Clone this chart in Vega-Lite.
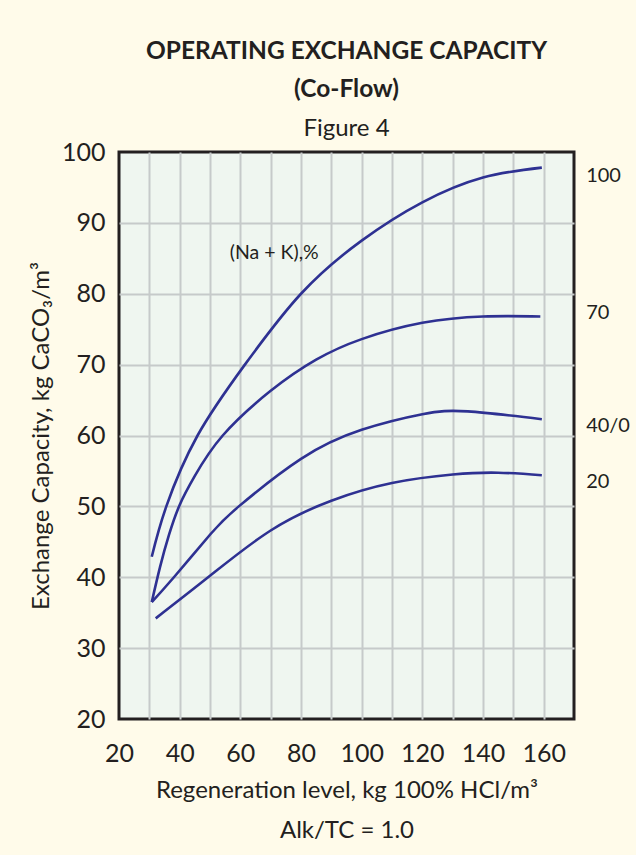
{
  "$schema": "https://vega.github.io/schema/vega-lite/v6.json",
  "autosize": "none",
  "width": 455,
  "height": 567,
  "padding": {"left": 119, "top": 152, "right": 62, "bottom": 136},
  "background": "#fffbea",
  "config": {
    "font": "Lato",
    "view": {"fill": "#eff6f0", "stroke": "#231f20", "strokeWidth": 3},
    "axis": {"gridColor": "#c6caca", "gridWidth": 2, "gridOpacity": 1, "domain": false, "ticks": false, "tickSize": 0, "labelColor": "#231f20", "titleColor": "#231f20", "labelFont": "Lato", "titleFont": "Lato", "titleFontWeight": "normal", "labelOverlap": false, "labelFlush": false}
  },
  "title": {
    "text": ["OPERATING EXCHANGE CAPACITY", "(Co-Flow)"],
    "fontSize": 24.5,
    "fontWeight": "bold",
    "lineHeight": 38,
    "color": "#231f20",
    "subtitle": "Figure 4",
    "subtitleFontSize": 24,
    "subtitleColor": "#231f20",
    "subtitlePadding": 15,
    "anchor": "middle",
    "frame": "group",
    "offset": -2
  },
  "resolve": {"axis": {"x": "independent", "y": "independent"}},
  "datasets": {
    "curves": [
      {"curve": "100", "x": 30.8, "y": 42.9},
      {"curve": "100", "x": 35.6, "y": 50},
      {"curve": "100", "x": 45.9, "y": 60},
      {"curve": "100", "x": 61.5, "y": 70},
      {"curve": "100", "x": 80, "y": 80},
      {"curve": "100", "x": 100, "y": 87.5},
      {"curve": "100", "x": 120, "y": 92.9},
      {"curve": "100", "x": 140, "y": 96.4},
      {"curve": "100", "x": 159.4, "y": 97.8},
      {"curve": "70", "x": 30.8, "y": 36.5},
      {"curve": "70", "x": 33.5, "y": 41.4},
      {"curve": "70", "x": 36.5, "y": 46},
      {"curve": "70", "x": 40, "y": 50.2},
      {"curve": "70", "x": 45, "y": 54.3},
      {"curve": "70", "x": 54.2, "y": 60},
      {"curve": "70", "x": 70, "y": 66.3},
      {"curve": "70", "x": 85, "y": 70.7},
      {"curve": "70", "x": 100, "y": 73.6},
      {"curve": "70", "x": 120, "y": 75.9},
      {"curve": "70", "x": 140, "y": 76.8},
      {"curve": "70", "x": 158.9, "y": 76.8},
      {"curve": "40/0", "x": 30.8, "y": 36.5},
      {"curve": "40/0", "x": 38.1, "y": 40},
      {"curve": "40/0", "x": 50.2, "y": 46.1},
      {"curve": "40/0", "x": 59.5, "y": 50},
      {"curve": "40/0", "x": 80, "y": 56.7},
      {"curve": "40/0", "x": 100, "y": 60.8},
      {"curve": "40/0", "x": 120, "y": 63},
      {"curve": "40/0", "x": 135, "y": 63.4},
      {"curve": "40/0", "x": 159.4, "y": 62.3},
      {"curve": "20", "x": 32.1, "y": 34.2},
      {"curve": "20", "x": 50, "y": 40.2},
      {"curve": "20", "x": 70, "y": 46.6},
      {"curve": "20", "x": 90, "y": 50.8},
      {"curve": "20", "x": 110, "y": 53.3},
      {"curve": "20", "x": 130, "y": 54.5},
      {"curve": "20", "x": 145, "y": 54.75},
      {"curve": "20", "x": 159.4, "y": 54.4}
    ],
    "endLabels": [
      {"label": "100", "x": 174, "y": 96.6},
      {"label": "70", "x": 174, "y": 77.3},
      {"label": "40/0", "x": 174, "y": 61.4},
      {"label": "20", "x": 174, "y": 53.5}
    ],
    "note": [
      {"label": "(Na + K),%", "x": 56.5, "y": 85.8}
    ]
  },
  "layer": [
    {
      "data": {"name": "curves"},
      "mark": {"type": "line", "interpolate": "natural", "color": "#2e3192", "strokeWidth": 2.6},
      "encoding": {
        "x": {
          "field": "x", "type": "quantitative",
          "scale": {"domain": [20, 170], "nice": false, "zero": false},
          "axis": {
            "grid": false,
            "values": [20, 40, 60, 80, 100, 120, 140, 160],
            "labelFontSize": 25,
            "labelPadding": 22,
            "title": ["Regeneration level, kg 100% HCl/m³", "Alk/TC = 1.0"],
            "titleFontSize": 24,
            "titleLineHeight": 40,
            "titlePadding": 12
          }
        },
        "y": {
          "field": "y", "type": "quantitative",
          "scale": {"domain": [20, 100], "nice": false, "zero": false},
          "axis": {
            "grid": false,
            "values": [20, 30, 40, 50, 60, 70, 80, 90, 100],
            "labelFontSize": 25,
            "labelPadding": 14,
            "title": "Exchange Capacity, kg CaCO₃/m³",
            "titleFontSize": 24,
            "titlePadding": 8
          }
        },
        "detail": {"field": "curve"}
      }
    },
    {
      "data": {"name": "endLabels"},
      "mark": {"type": "text", "align": "left", "baseline": "middle", "fontSize": 20, "color": "#231f20"},
      "encoding": {
        "x": {
          "field": "x", "type": "quantitative",
          "axis": {"orient": "top", "grid": true, "labels": false, "ticks": false, "domain": false, "title": null,
                   "values": [30, 40, 50, 60, 70, 80, 90, 100, 110, 120, 130, 140, 150, 160]}
        },
        "y": {
          "field": "y", "type": "quantitative",
          "axis": {"orient": "right", "grid": true, "labels": false, "ticks": false, "domain": false, "title": null,
                   "values": [30, 40, 50, 60, 70, 80, 90]}
        },
        "text": {"field": "label"}
      }
    },
    {
      "data": {"name": "note"},
      "mark": {"type": "text", "align": "left", "baseline": "middle", "fontSize": 19.5, "color": "#231f20"},
      "encoding": {
        "x": {"field": "x", "type": "quantitative", "axis": null},
        "y": {"field": "y", "type": "quantitative", "axis": null},
        "text": {"field": "label"}
      }
    }
  ]
}
